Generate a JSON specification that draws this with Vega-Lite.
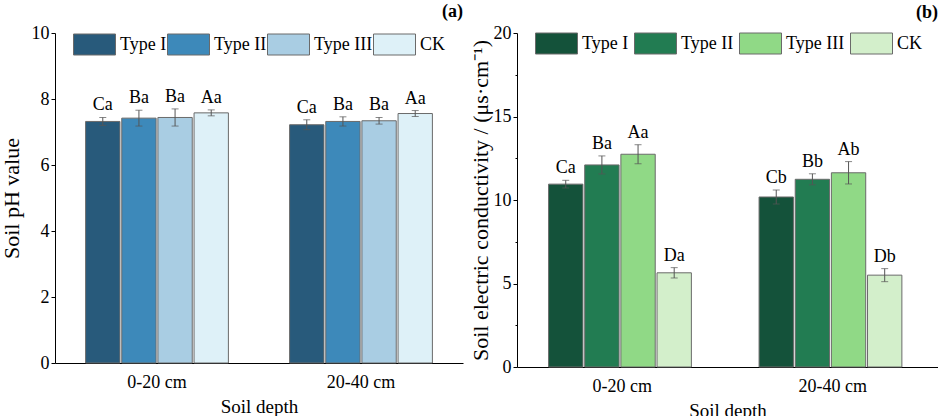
{
  "$schema": "https://vega.github.io/schema/vega-lite/v6.json",
  "padding": {"left": 0, "top": 3, "right": 0, "bottom": 0},
  "spacing": 6,
  "config": {
    "font": "Liberation Serif",
    "view": {"stroke": null},
    "axis": {
      "grid": false,
      "labelFontSize": 18,
      "titleFontSize": 19,
      "titleFontWeight": "normal",
      "labelColor": "black",
      "titleColor": "black",
      "domainColor": "black",
      "tickColor": "black",
      "domainWidth": 1
    },
    "axisY": {"titleFontSize": 22},
    "title": {"fontSize": 18, "fontWeight": "bold", "anchor": "end", "color": "black"}
  },
  "datasets": {
    "ph": [
      {"depth": "0-20 cm", "type": "Type I", "value": 7.32, "lo": 7.20, "hi": 7.44, "label": "Ca"},
      {"depth": "0-20 cm", "type": "Type II", "value": 7.42, "lo": 7.18, "hi": 7.66, "label": "Ba"},
      {"depth": "0-20 cm", "type": "Type III", "value": 7.44, "lo": 7.18, "hi": 7.70, "label": "Ba"},
      {"depth": "0-20 cm", "type": "CK", "value": 7.58, "lo": 7.49, "hi": 7.67, "label": "Aa"},
      {"depth": "20-40 cm", "type": "Type I", "value": 7.22, "lo": 7.07, "hi": 7.37, "label": "Ca"},
      {"depth": "20-40 cm", "type": "Type II", "value": 7.32, "lo": 7.18, "hi": 7.46, "label": "Ba"},
      {"depth": "20-40 cm", "type": "Type III", "value": 7.34, "lo": 7.24, "hi": 7.44, "label": "Ba"},
      {"depth": "20-40 cm", "type": "CK", "value": 7.56, "lo": 7.47, "hi": 7.65, "label": "Aa"}
    ],
    "ec": [
      {"depth": "0-20 cm", "type": "Type I", "value": 10.95, "lo": 10.72, "hi": 11.18, "label": "Ca"},
      {"depth": "0-20 cm", "type": "Type II", "value": 12.1, "lo": 11.56, "hi": 12.64, "label": "Ba"},
      {"depth": "0-20 cm", "type": "Type III", "value": 12.74, "lo": 12.17, "hi": 13.31, "label": "Aa"},
      {"depth": "0-20 cm", "type": "CK", "value": 5.64, "lo": 5.33, "hi": 5.95, "label": "Da"},
      {"depth": "20-40 cm", "type": "Type I", "value": 10.18, "lo": 9.76, "hi": 10.6, "label": "Cb"},
      {"depth": "20-40 cm", "type": "Type II", "value": 11.24, "lo": 10.91, "hi": 11.57, "label": "Bb"},
      {"depth": "20-40 cm", "type": "Type III", "value": 11.63, "lo": 10.96, "hi": 12.3, "label": "Ab"},
      {"depth": "20-40 cm", "type": "CK", "value": 5.5, "lo": 5.11, "hi": 5.89, "label": "Db"}
    ]
  },
  "hconcat": [
    {
      "width": 408,
      "height": 330,
      "title": {"text": "(a)", "offset": 2},
      "data": {"name": "ph"},
      "encoding": {
        "x": {
          "field": "depth", "type": "nominal", "title": "Soil depth",
          "scale": {"paddingInner": 0.3, "paddingOuter": 0.15},
          "axis": {"ticks": false, "labelAngle": 0, "labelPadding": 10, "titlePadding": 6}
        },
        "xOffset": {"field": "type", "sort": ["Type I", "Type II", "Type III", "CK"], "scale": {"paddingInner": 0.05}}
      },
      "layer": [
        {
          "mark": {"type": "bar", "stroke": "#6a6a6a", "strokeWidth": 1},
          "encoding": {
            "y": {
              "field": "value", "type": "quantitative", "title": "Soil pH value",
              "scale": {"domain": [0, 10]},
              "axis": {
                "values": [0, 1, 2, 3, 4, 5, 6, 7, 8, 9, 10],
                "labelExpr": "datum.value % 2 === 0 ? datum.label : ''",
                "tickSize": {"condition": {"test": "datum.value % 2 === 0", "value": 4}, "value": 2},
                "labelPadding": 2, "titlePadding": 8
              }
            },
            "color": {
              "field": "type", "type": "nominal",
              "scale": {"domain": ["Type I", "Type II", "Type III", "CK"], "range": ["#285a7b", "#3d89ba", "#a9cde3", "#def1f8"]},
              "legend": {
                "orient": "none", "legendX": 18, "legendY": -10, "direction": "horizontal", "columns": 4,
                "title": null, "padding": 0,
                "symbolType": "M-1,-0.5H1V0.5H-1Z", "symbolSize": 1764,
                "symbolStrokeColor": "#6a6a6a", "symbolStrokeWidth": 1, "symbolOpacity": 1,
                "labelFontSize": 18, "labelColor": "black", "labelOffset": 4, "columnPadding": -3
              }
            }
          }
        },
        {
          "mark": {"type": "rule", "color": "#555555", "strokeWidth": 1},
          "encoding": {
            "y": {"field": "lo", "type": "quantitative", "title": "Soil pH value"},
            "y2": {"field": "hi"}
          }
        },
        {
          "mark": {"type": "tick", "color": "#555555", "size": 7, "thickness": 1},
          "encoding": {"y": {"field": "lo", "type": "quantitative", "title": "Soil pH value"}}
        },
        {
          "mark": {"type": "tick", "color": "#555555", "size": 7, "thickness": 1},
          "encoding": {"y": {"field": "hi", "type": "quantitative", "title": "Soil pH value"}}
        },
        {
          "mark": {"type": "text", "baseline": "bottom", "dy": -3, "fontSize": 18, "color": "black"},
          "encoding": {
            "y": {"field": "hi", "type": "quantitative", "title": "Soil pH value"},
            "text": {"field": "label"}
          }
        }
      ]
    },
    {
      "width": 421,
      "height": 334,
      "title": {"text": "(b)", "offset": 0},
      "data": {"name": "ec"},
      "encoding": {
        "x": {
          "field": "depth", "type": "nominal", "title": "Soil depth",
          "scale": {"paddingInner": 0.3, "paddingOuter": 0.15},
          "axis": {"ticks": false, "labelAngle": 0, "labelPadding": 10, "titlePadding": 6}
        },
        "xOffset": {"field": "type", "sort": ["Type I", "Type II", "Type III", "CK"], "scale": {"paddingInner": 0.05}}
      },
      "layer": [
        {
          "mark": {"type": "bar", "stroke": "#6a6a6a", "strokeWidth": 1},
          "encoding": {
            "y": {
              "field": "value", "type": "quantitative", "title": "Soil electric conductivity / (μs·cm⁻¹)",
              "scale": {"domain": [0, 20]},
              "axis": {
                "values": [0, 2.5, 5, 7.5, 10, 12.5, 15, 17.5, 20],
                "labelExpr": "datum.value % 5 === 0 ? datum.label : ''",
                "tickSize": {"condition": {"test": "datum.value % 5 === 0", "value": 4}, "value": 2},
                "labelPadding": 2, "titlePadding": 1
              }
            },
            "color": {
              "field": "type", "type": "nominal",
              "scale": {"domain": ["Type I", "Type II", "Type III", "CK"], "range": ["#14523a", "#227c52", "#90d986", "#d3efcb"]},
              "legend": {
                "orient": "none", "legendX": 18, "legendY": -11, "direction": "horizontal", "columns": 4,
                "title": null, "padding": 0,
                "symbolType": "M-1,-0.5H1V0.5H-1Z", "symbolSize": 1764,
                "symbolStrokeColor": "#6a6a6a", "symbolStrokeWidth": 1, "symbolOpacity": 1,
                "labelFontSize": 18, "labelColor": "black", "labelOffset": 4, "columnPadding": 3
              }
            }
          }
        },
        {
          "mark": {"type": "rule", "color": "#555555", "strokeWidth": 1},
          "encoding": {
            "y": {"field": "lo", "type": "quantitative", "title": "Soil electric conductivity / (μs·cm⁻¹)"},
            "y2": {"field": "hi"}
          }
        },
        {
          "mark": {"type": "tick", "color": "#555555", "size": 7, "thickness": 1},
          "encoding": {"y": {"field": "lo", "type": "quantitative", "title": "Soil electric conductivity / (μs·cm⁻¹)"}}
        },
        {
          "mark": {"type": "tick", "color": "#555555", "size": 7, "thickness": 1},
          "encoding": {"y": {"field": "hi", "type": "quantitative", "title": "Soil electric conductivity / (μs·cm⁻¹)"}}
        },
        {
          "mark": {"type": "text", "baseline": "bottom", "dy": -3, "fontSize": 18, "color": "black"},
          "encoding": {
            "y": {"field": "hi", "type": "quantitative", "title": "Soil electric conductivity / (μs·cm⁻¹)"},
            "text": {"field": "label"}
          }
        }
      ]
    }
  ],
  "resolve": {"scale": {"color": "independent", "y": "independent"}, "legend": {"color": "independent"}}
}
